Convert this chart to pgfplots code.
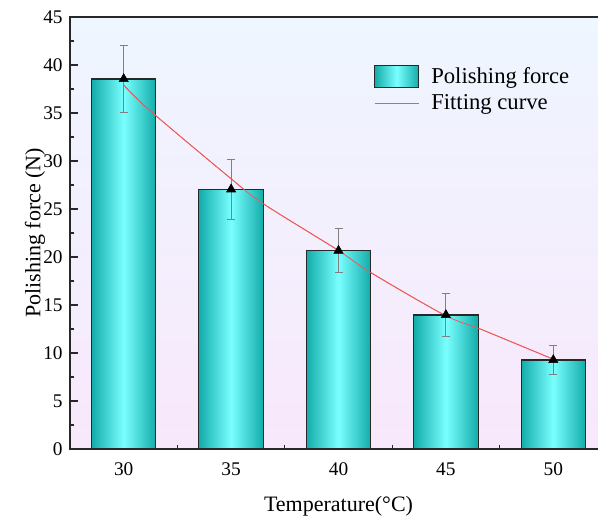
\documentclass[border=0pt]{standalone}
\usepackage{fontspec}
\setmainfont{Liberation Serif}
\usepackage{pgfplots}
\pgfplotsset{compat=1.18}
\definecolor{bgtop}{RGB}{238,246,255}
\definecolor{bgbot}{RGB}{248,232,251}
\definecolor{baredge}{RGB}{18,172,170}
\definecolor{barmid}{RGB}{122,255,255}
\definecolor{fitred}{RGB}{240,90,90}
\definecolor{errgray}{RGB}{128,128,128}
\definecolor{axisgray}{RGB}{40,40,40}
\pgfplotsset{
  barlegend/.style={legend image code/.code={\draw[#1] (0pt,-8.25pt) rectangle (33pt,8.25pt);}},
  linelegend/.style={legend image code/.code={\draw[#1] (0pt,0pt) -- (33pt,0pt);}},
  barstyle/.style={ybar, bar width=3, bar shift=0pt, draw=axisgray, line width=0.8pt,
    left color=baredge, right color=baredge, middle color=barmid, barlegend},
}
\begin{document}
\begin{tikzpicture}
\useasboundingbox (-52.5pt,-50.25pt) rectangle (396pt,336.75pt);
\begin{axis}[
  scale only axis, width=402.75pt, height=324pt,
  xmin=27.5, xmax=52.5, ymin=0, ymax=45,
  xtick={30,35,40,45,50}, ytick={0,5,...,45},
  minor x tick num=1, minor y tick num=1,
  tick pos=left, tick align=inside,
  major tick length=6pt, minor tick length=3pt,
  every tick/.style={axisgray, line width=0.9pt},
  axis line style={axisgray, line width=0.9pt},
  axis background/.style={top color=bgtop, bottom color=bgbot},
  ticklabel style={font=\fontsize{14.5}{16}\selectfont},
  /pgf/number format/assume math mode=true,
  xticklabel style={yshift=-7pt},
  yticklabel style={xshift=-2pt},
  xlabel={Temperature(°C)}, ylabel={Polishing force (N)},
  label style={font=\fontsize{16.5}{20}\selectfont},
  xlabel style={at={(axis description cs:0.5,-0.132)}, anchor=center},
  ylabel style={at={(axis description cs:-0.065,0.5)}, anchor=center},
  legend style={draw=none, fill=none, at={(axis description cs:0.566,0.889)}, anchor=north west,
    inner sep=0pt, font=\fontsize{17}{20}\selectfont, row sep=4pt, nodes={inner sep=1pt},
    /tikz/every odd column/.append style={column sep=8pt}},
  legend cell align=left,
]
\addplot[barstyle] coordinates {(30,38.54)};
\addlegendentry{Polishing force}
\addplot[fitred, line width=0.6pt, smooth, mark=none, linelegend]
  coordinates {(30,37.92) (31.19,35.31) (34.92,28.30) (36.47,25.59) (39.96,20.73) (41.45,18.45) (44.93,13.96) (46.71,12.40) (49.89,9.45) (50,9.35)};
\addlegendentry{Fitting curve}
\addplot[barstyle, forget plot] coordinates {(35,27.05)};
\addplot[barstyle, forget plot] coordinates {(40,20.66)};
\addplot[barstyle, forget plot] coordinates {(45,13.96)};
\addplot[barstyle, forget plot] coordinates {(50,9.27)};
\addplot[fitred, line width=0.6pt, smooth, mark=none, forget plot]
  coordinates {(30,37.92) (31.19,35.31) (34.92,28.30) (36.47,25.59) (39.96,20.73) (41.45,18.45) (44.93,13.96) (46.71,12.40) (49.89,9.45) (50,9.35)};
\addplot[forget plot, only marks, mark=triangle*, mark size=4pt, black,
  error bars/.cd, y dir=both, y explicit,
  error bar style={errgray, line width=0.75pt},
  error mark options={errgray, rotate=90, mark size=3pt, line width=0.75pt}]
  coordinates {(30,38.54) +- (0,3.52) (35,27.05) +- (0,3.1) (40,20.66) +- (0,2.31) (45,13.96) +- (0,2.19) (50,9.27) +- (0,1.49)};
\end{axis}
\end{tikzpicture}
\end{document}
